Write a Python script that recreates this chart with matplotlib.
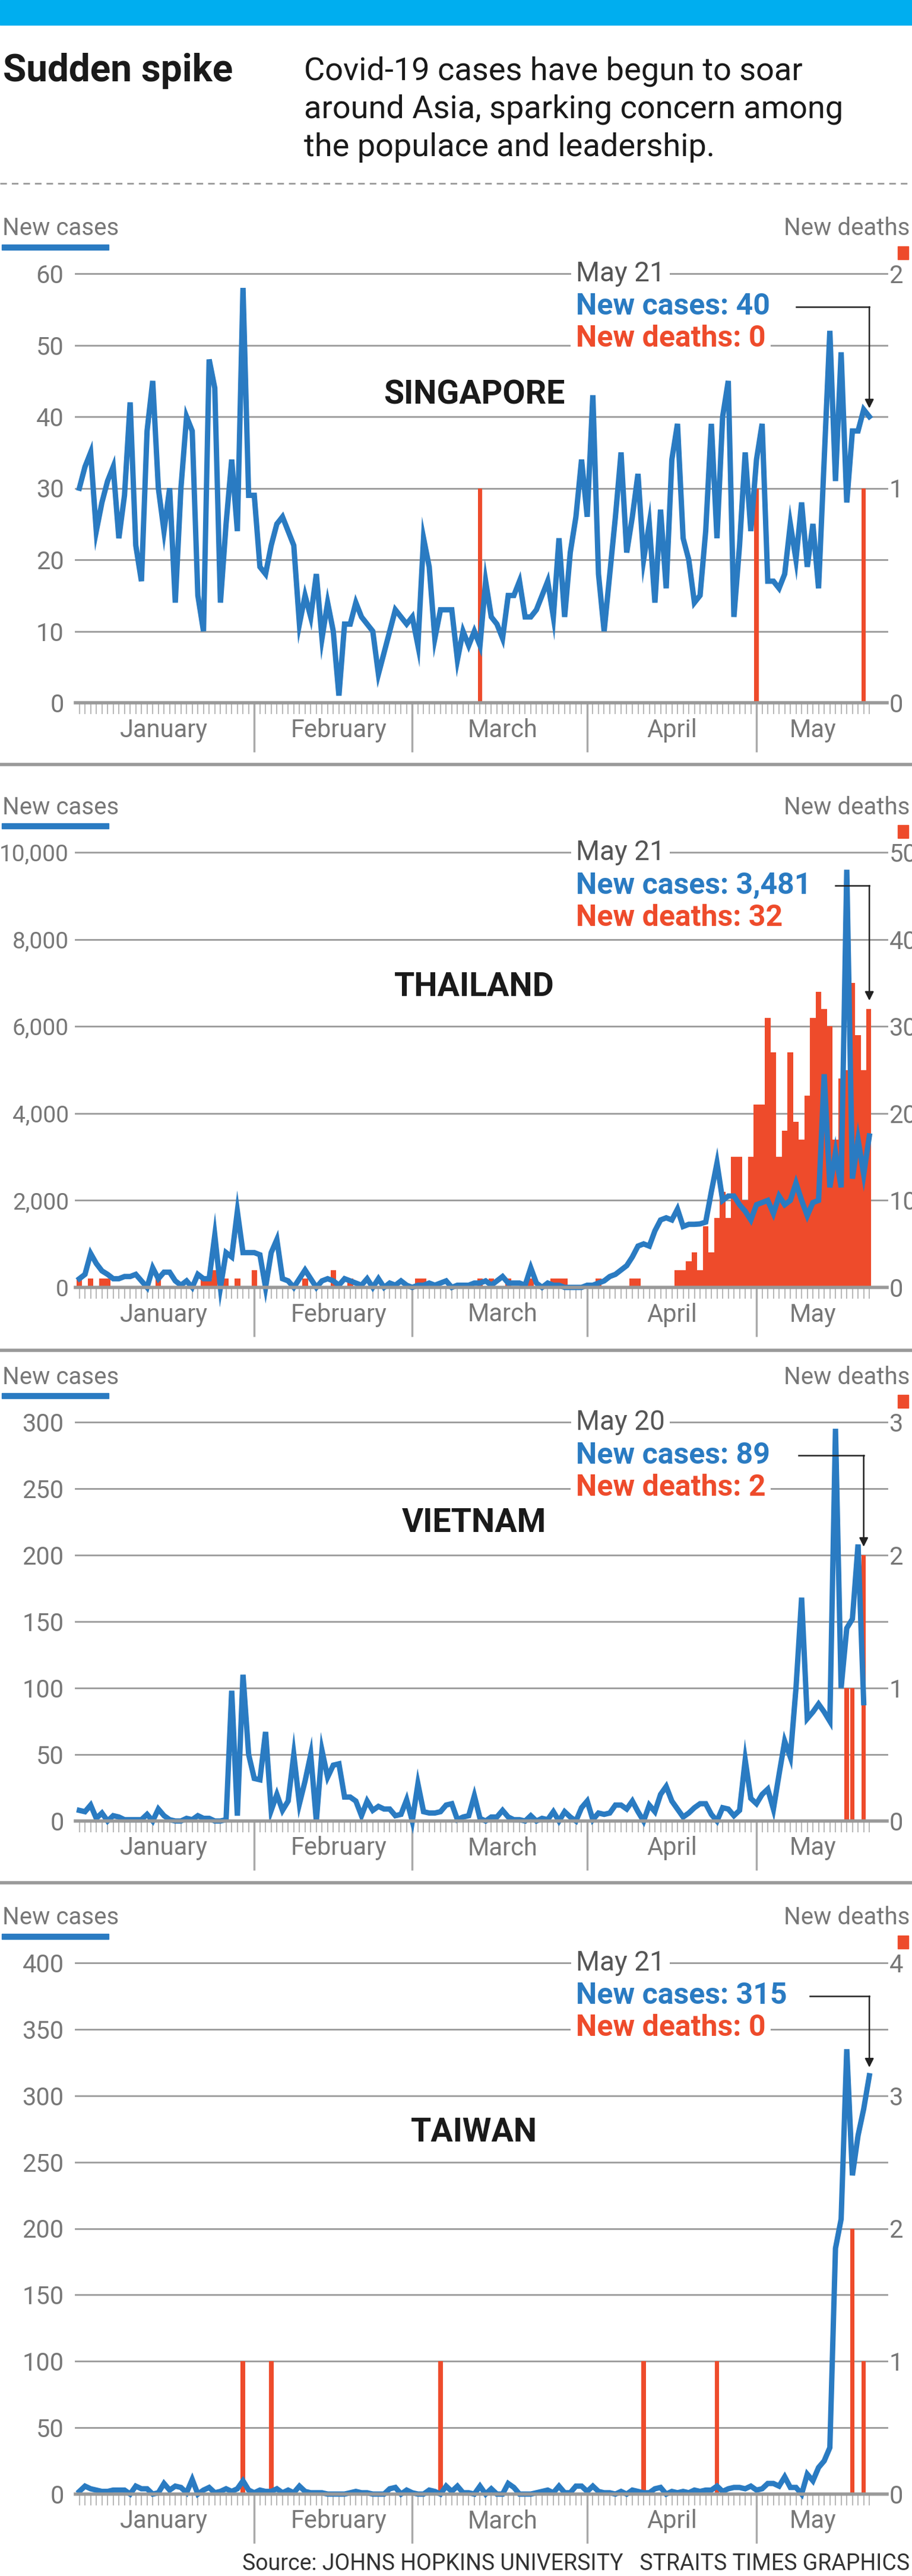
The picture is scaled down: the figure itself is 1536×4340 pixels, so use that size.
import numpy as np
import matplotlib
matplotlib.use("Agg")
import matplotlib.pyplot as plt
from matplotlib.patches import Rectangle
from matplotlib.lines import Line2D

plt.rcParams['font.family'] = ['Roboto', 'DejaVu Sans']

BLUE = '#2a7bc2'
RED = '#ee4b2b'
GREY = '#777777'
GRID = '#9a9a9a'

months = ['January', 'February', 'March', 'April', 'May']
month_starts = [31, 59, 90, 120]
month_mid = [15, 46, 75, 105, 130]

# ---- data (Jan 1 .. May 21) ----
sg_cases = [30, 33, 35, 24, 28, 31, 33, 23, 29, 42, 22, 17, 38, 45, 30, 24, 30, 14, 30, 40,
            38, 15, 10, 48, 44, 14, 25, 34, 24, 58,
            29, 29, 19, 18, 22, 25, 26, 24, 22, 11, 15, 12, 18, 9, 14, 10, 1, 11, 11, 14,
            12, 11, 10, 4, 7, 10, 13, 12, 11, 12, 8, 23, 19, 9, 13, 13, 13, 6, 10, 8,
            10, 8, 17, 12, 11, 9, 15, 15, 17, 12, 12, 13, 15, 17, 12, 23, 12, 21, 26, 34,
            26, 43, 18, 10, 18, 26, 35, 21, 26, 32, 20, 25, 14, 27, 16, 34, 39, 23, 20, 14,
            15, 24, 39, 23, 40, 45, 12, 22, 35, 24, 34, 39, 17, 17, 16, 18, 25, 20, 28, 19,
            25, 16, 34, 52, 31, 49, 28, 38, 38, 41, 40]
sg_death_days = [71, 120, 139]
sg_death_vals = [1, 1, 1]

th_cases = [200, 300, 780, 550, 380, 300, 200, 200, 250, 250, 300, 150, 0, 450, 200, 350, 350, 150, 50, 150,
            0, 300, 200, 200, 1200, 0, 800, 700, 1750, 800, 800, 800, 750, 0, 800, 1100, 200, 150, 0, 200,
            400, 200, 0, 150, 200, 150, 50, 200, 150, 100, 50, 200, 0, 200, 0, 100, 50, 150, 50, 0,
            50, 50, 100, 50, 100, 150, 0, 50, 50, 50, 100, 100, 150, 50, 150, 250, 100, 100, 100, 50,
            450, 100, 0, 100, 50, 50,
            0, 0, 0, 0, 50, 50, 100, 150, 250, 300, 400, 500, 700, 950, 1000, 950, 1300, 1550, 1600, 1550,
            1800, 1400, 1450, 1450, 1460, 1500, 2200, 2860, 2000, 2100, 2100, 1900, 1750, 1550, 1900, 1950,
            2000, 1700, 2100, 1900, 2000, 2400, 2000, 1650, 1950, 2000, 4900, 2300, 3100, 2300, 9600, 2500,
            3400, 2600, 3481]
th_death_days = [0, 2, 4, 5, 14, 22, 23, 24, 26, 28, 31, 40, 45, 48, 60, 61, 71, 73, 76, 80, 84, 85, 86, 92, 98, 99] \
    + list(range(106, 141))
th_death_vals = [1, 1, 1, 1, 1, 1, 1, 2, 1, 1, 2, 1, 2, 1, 1, 1, 1, 1, 1, 1, 1, 1, 1, 1, 1, 1] \
    + [2, 2, 3, 4, 2, 7, 4, 8, 11, 8, 15, 15, 10, 15, 21, 21, 31, 27, 15, 18, 27, 19, 17, 22, 31,
       34, 32, 30, 17, 24, 25, 35, 29, 25, 32]

vn_cases = [8, 7, 12, 2, 6, 0, 4, 3, 1, 1, 1, 1, 5, 0, 9, 4, 1, 0, 0, 2, 1, 4, 2, 2, 0, 0, 1,
            98, 4, 110, 50, 32, 31, 67, 8, 20, 8, 15, 50, 13, 30, 50, 0, 53, 33, 42, 43, 18, 18, 15,
            4, 15, 8, 11, 9, 9, 4, 5, 16, 0, 28,
            7, 6, 6, 7, 12, 13, 1, 3, 4, 19,
            2, 0, 3, 3, 8, 3, 1, 1, 0, 4, 0, 2, 1, 7,
            0, 7, 3, 0, 10, 15, 1, 6, 5, 6, 12, 12, 9, 15, 7, 0, 12, 7, 20, 26,
            15, 9, 3, 6, 10, 13, 13, 5, 0, 10, 9, 4, 8,
            46, 17, 13, 20, 24, 9, 35, 60, 48, 100, 168, 77, 82, 88, 82, 75, 295, 100, 145, 152, 208, 89]
vn_death_days = [136, 137, 139]
vn_death_vals = [1, 1, 2]

tw_cases = [2, 6, 4, 3, 2, 2, 3, 3, 3, 0, 6, 4, 4, 0, 1, 8, 3, 6, 5, 1,
            11, 0, 3, 5, 1, 2, 4, 2, 4, 10, 3, 1, 3, 2, 2, 4, 1, 3, 1, 6,
            2, 1, 1, 1, 0, 0, 0, 0, 1, 2, 1, 1, 0, 0, 0, 4, 5, 0, 3, 1,
            0, 0, 3, 2, 0, 6, 2, 6, 1, 1, 0, 6, 0, 4, 0, 0, 8, 5, 0, 0,
            0, 1, 2, 3, 1, 6, 1, 1, 6, 6, 2, 6, 2, 1, 1, 0, 2, 0, 3, 2,
            1, 1, 4, 5, 0, 2, 1, 2, 1, 3, 2, 3, 3, 6, 2, 4, 5, 5, 4, 6,
            3, 4, 8, 8, 6,
            13, 5, 5, 0, 15, 10, 20, 25, 35, 185, 207, 335, 240, 270, 290, 315]
tw_death_days = [29, 34, 64, 100, 113, 137, 139]
tw_death_vals = [1, 1, 1, 1, 1, 2, 1]

panels = [
    dict(name='SINGAPORE', cases=sg_cases, dd=sg_death_days, dv=sg_death_vals,
         cmax=60, cstep=10, dmax=2, date='May 21', ctext='New cases: 40', dtext='New deaths: 0',
         box=(461, 1184), bw=0.8, arrow_x0=127.0, arrow_to=40, title_y=43),
    dict(name='THAILAND', cases=th_cases, dd=th_death_days, dv=th_death_vals,
         cmax=10000, cstep=2000, dmax=50, date='May 21', ctext='New cases: 3,481', dtext='New deaths: 32',
         box=(1436, 2169), bw=1.0, arrow_x0=134.0, arrow_to=6400, title_y=6900),
    dict(name='VIETNAM', cases=vn_cases, dd=vn_death_days, dv=vn_death_vals,
         cmax=300, cstep=50, dmax=3, date='May 20', ctext='New cases: 89', dtext='New deaths: 2',
         box=(2396, 3068), bw=0.8, arrow_x0=127.5, arrow_to=200, title_y=224),
    dict(name='TAIWAN', cases=tw_cases, dd=tw_death_days, dv=tw_death_vals,
         cmax=400, cstep=50, dmax=4, date='May 21', ctext='New cases: 315', dtext='New deaths: 0',
         box=(3307, 4202), bw=0.8, arrow_x0=129.5, arrow_to=315, title_y=272),
]

W, H = 1536, 4340
fig = plt.figure(figsize=(W / 100, H / 100), dpi=100)

# header
fig.patches.append(Rectangle((0, 1 - 42 / H), 1, 42 / H, transform=fig.transFigure, color='#00aeef'))
fig.text(5 / W, 1 - 120 / H, 'Sudden spike', fontsize=46, fontweight='bold', va='center', color='#1a1a1a')
for i, line in enumerate(['Covid-19 cases have begun to soar',
                          'around Asia, sparking concern among',
                          'the populace and leadership.']):
    fig.text(512 / W, 1 - (120 + 64 * i) / H, line, fontsize=39, va='center', color='#1a1a1a')
fig.add_artist(Line2D([0, 1], [1 - 309 / H] * 2, transform=fig.transFigure, color='#999999',
                      lw=2, ls=(0, (4, 3))))
for yy in [1288, 2275, 3172]:
    fig.add_artist(Line2D([0, 1], [1 - yy / H] * 2, transform=fig.transFigure, color='#999999', lw=4))

x0, x1 = 127, 1467
for p in panels:
    top, bot = p['box']
    ax = fig.add_axes([x0 / W, 1 - bot / H, (x1 - x0) / W, (bot - top) / H])
    cmax, dmax = p['cmax'], p['dmax']
    scale = cmax / dmax
    ypx = cmax / (bot - top)
    days = np.arange(len(p['cases']))
    ax.set_xlim(-0.7, 140.3)
    ax.set_ylim(0, cmax)
    for v in np.arange(p['cstep'], cmax + 1, p['cstep']):
        ax.axhline(v, color=GRID, lw=2, zorder=1, xmax=1.02, clip_on=False)
    ax.bar(p['dd'], np.array(p['dv']) * scale, width=p['bw'], color=RED, zorder=2, linewidth=0)
    ax.plot(days, p['cases'], color=BLUE, lw=6.5, zorder=3, clip_on=False, solid_joinstyle='miter')
    for s in ax.spines.values():
        s.set_visible(False)
    ax.axhline(0, color='#999999', lw=4, zorder=4, xmax=1.02, clip_on=False)
    # left ticks
    ticks = np.arange(0, cmax + 1, p['cstep'])
    ax.set_yticks(ticks)
    ax.set_yticklabels([f'{int(t):,}' for t in ticks], fontsize=28 if cmax > 1000 else 30, color=GREY)
    ax.tick_params(axis='y', length=0, pad=8 if cmax > 1000 else 14)
    # right ticks
    ax2 = ax.twinx()
    ax2.set_ylim(0, dmax)
    ax2.set_yticks(np.arange(0, dmax + 1, 1 if dmax < 10 else 10))
    ax2.tick_params(axis='y', length=0, pad=22, labelsize=30, labelcolor=GREY)
    for s in ax2.spines.values():
        s.set_visible(False)
    # x ticks
    ax.set_xticks(np.arange(0, 141), minor=True)
    ax.tick_params(axis='x', which='minor', length=14, width=1.2, color='#aaaaaa')
    ax.set_xticks(month_starts)
    ax.set_xticklabels([])
    ax.tick_params(axis='x', which='major', length=60, width=2.5, color='#aaaaaa')
    for m, xm in zip(months, month_mid):
        ax.text(xm, -46 * ypx, m, ha='center', va='center', fontsize=30, color=GREY)
    # country name
    ax.text(70, p['title_y'], p['name'], ha='center', va='center', fontsize=40, fontweight='bold',
            color='#1a1a1a', zorder=6)
    # annotation
    ax.text(88, cmax, p['date'], fontsize=33, color='#555555', va='center', ha='left', zorder=6,
            bbox=dict(facecolor='white', edgecolor='none', pad=6))
    yc = cmax - 56 * ypx
    yd = cmax - 110 * ypx
    ax.text(88, yc, p['ctext'], fontsize=36, fontweight='bold', color=BLUE, va='center', ha='left',
            zorder=6, bbox=dict(facecolor='white', edgecolor='none', pad=6))
    ax.text(88, yd, p['dtext'], fontsize=36, fontweight='bold', color=RED, va='center', ha='left',
            zorder=6, bbox=dict(facecolor='white', edgecolor='none', pad=6))
    last = len(p['cases']) - 1
    ax.plot([p['arrow_x0'], last], [yc, yc], color='#222222', lw=1.8, zorder=7, clip_on=False)
    ax.annotate('', xy=(last, p['arrow_to'] + 14 * ypx), xytext=(last, yc),
                arrowprops=dict(arrowstyle='-|>', color='#222222', lw=1.8, mutation_scale=22,
                                shrinkA=0, shrinkB=0),
                zorder=7, annotation_clip=False)
    # axis labels
    fig.text(4 / W, 1 - (top - 76) / H, 'New cases', fontsize=29, color=GREY, va='center')
    fig.patches.append(Rectangle((3 / W, 1 - (top - 40) / H), 180 / W, 9 / H,
                                 transform=fig.transFigure, color=BLUE))
    fig.text(1532 / W, 1 - (top - 76) / H, 'New deaths', fontsize=29, color=GREY, va='center', ha='right')
    fig.patches.append(Rectangle((1512 / W, 1 - (top - 24) / H), 18 / W, 22 / H,
                                 transform=fig.transFigure, color=RED))

fig.text(1532 / W, 1 - 4320 / H, 'Source: JOHNS HOPKINS UNIVERSITY   STRAITS TIMES GRAPHICS',
         fontsize=27, color='#333333', ha='right', va='center')

fig.savefig('out.png', dpi=100, facecolor='white')
